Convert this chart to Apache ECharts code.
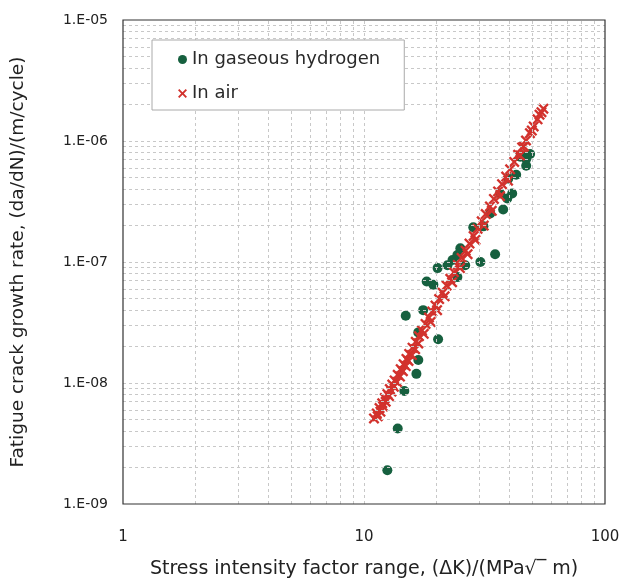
<!DOCTYPE html>
<html>
<head>
<meta charset="utf-8">
<script src="https://cdn.jsdelivr.net/npm/echarts@6/dist/echarts.min.js"></script>
<style>html,body{margin:0;padding:0;background:#fff}#c{width:633px;height:584px}</style>
</head>
<body>
<div id="c"></div>
<script>
// ---- Data ----
// In gaseous hydrogen: ΔK (MPa√m) and da/dN (m/cycle)
var hydrogenK  = [12.5, 13.8, 14.7, 16.5, 16.8, 16.8, 20.3, 14.9, 17.6, 18.2, 19.4, 20.2, 22.2, 23.3, 24.4, 25.1, 26.3, 24.4, 30.4, 35.0, 28.4, 31.3, 33.4, 37.8, 36.7, 39.3, 41.2, 39.7, 42.8, 47.1, 47.1, 48.9, 44.5, 46.0];
var hydrogenDa = [1.9e-9, 4.2e-9, 8.6e-9, 1.19e-8, 1.55e-8, 2.62e-8, 2.3e-8, 3.6e-8, 4.0e-8, 6.9e-8, 6.5e-8, 8.9e-8, 9.4e-8, 1.04e-7, 1.14e-7, 1.30e-7, 9.4e-8, 7.5e-8, 1.0e-7, 1.16e-7, 1.94e-7, 1.97e-7, 2.52e-7, 2.72e-7, 3.68e-7, 3.35e-7, 3.68e-7, 4.89e-7, 5.26e-7, 6.24e-7, 7.1e-7, 7.8e-7, 7.4e-7, 7.6e-7];

// In air: ΔK and da/dN
var airK  = [11.0, 11.3, 11.6, 11.9, 12.2, 12.5, 12.8, 13.1, 13.4, 13.8, 14.2, 14.6, 15.0, 15.4, 15.9, 16.4, 16.9, 17.4, 18.0, 18.6, 19.2, 19.8, 20.5, 21.2, 22.0, 22.8, 23.6, 24.5, 25.4, 26.4, 27.4, 28.5, 29.6, 30.8, 32.0, 33.3, 34.6, 36.0, 37.4, 38.9, 40.4, 42.0, 43.6, 45.3, 47.0, 48.8, 50.6, 52.5, 54.5,
             11.4, 11.7, 12.0, 12.3, 12.7, 13.0, 13.3, 13.7, 14.1, 14.5, 14.9, 15.3, 15.8, 16.3, 16.8, 17.7, 18.9, 20.1, 21.6, 23.2, 25.0, 26.9, 29.0, 31.4, 33.9, 36.7, 39.6, 44.4, 46.1, 49.7, 53.5, 55.5];
var airDa = [5.1e-9, 5.6e-9, 6.2e-9, 6.8e-9, 7.5e-9, 8.1e-9, 8.9e-9, 9.7e-9, 1.05e-8, 1.17e-8, 1.30e-8, 1.43e-8, 1.58e-8, 1.74e-8, 1.96e-8, 2.19e-8, 2.44e-8, 2.72e-8, 3.08e-8, 3.47e-8, 3.89e-8, 4.36e-8, 4.94e-8, 5.58e-8, 6.38e-8, 7.27e-8, 8.24e-8, 9.45e-8, 1.08e-7, 1.24e-7, 1.42e-7, 1.64e-7, 1.88e-7, 2.17e-7, 2.49e-7, 2.88e-7, 3.32e-7, 3.83e-7, 4.40e-7, 5.08e-7, 5.83e-7, 6.71e-7, 7.70e-7, 8.85e-7, 1.01e-6, 1.16e-6, 1.32e-6, 1.51e-6, 1.73e-6,
             5.3e-9, 5.8e-9, 6.4e-9, 7.0e-9, 7.8e-9, 8.5e-9, 9.3e-9, 1.02e-8, 1.13e-8, 1.25e-8, 1.38e-8, 1.52e-8, 1.70e-8, 1.90e-8, 2.12e-8, 2.55e-8, 3.2e-8, 4.0e-8, 5.2e-8, 6.8e-8, 8.9e-8, 1.16e-7, 1.52e-7, 2.0e-7, 2.65e-7, 3.5e-7, 4.7e-7, 7.6e-7, 9.0e-7, 1.22e-6, 1.65e-6, 1.85e-6];

// Axis ranges / grid line values
var xMin = 1, xMax = 100;
var yMin = 1e-9, yMax = 1e-5;
var xGridValues = [2,3,4,5,6,7,8,9,10,20,30,40,50,60,70,80,90];
var yGridValues = [2e-9,3e-9,4e-9,5e-9,6e-9,7e-9,8e-9,9e-9,1e-8,
                   2e-8,3e-8,4e-8,5e-8,6e-8,7e-8,8e-8,9e-8,1e-7,
                   2e-7,3e-7,4e-7,5e-7,6e-7,7e-7,8e-7,9e-7,1e-6,
                   2e-6,3e-6,4e-6,5e-6,6e-6,7e-6,8e-6,9e-6];

var seriesNames = ['In gaseous hydrogen', 'In air'];
var xTitle = 'Stress intensity factor range, (\u0394K)/(MPa\u221A\u203E m)';
var yTitle = 'Fatigue crack growth rate, (da/dN)/(m/cycle)';

// ---- Build ----
function zip(a, b){ var r=[]; for (var i=0;i<a.length;i++) r.push([a[i], b[i]]); return r; }
var crossPath = 'path://M1.5,0L5,3.5L8.5,0L10,1.5L6.5,5L10,8.5L8.5,10L5,6.5L1.5,10L0,8.5L3.5,5L0,1.5Z';
var FONT = '"DejaVu Sans", sans-serif';

var gridLines = [];
xGridValues.forEach(function(v){ gridLines.push([{coord: [v, yMin]}, {coord: [v, yMax]}]); });
yGridValues.forEach(function(v){ gridLines.push([{coord: [xMin, v]}, {coord: [xMax, v]}]); });

var chart = echarts.init(document.getElementById('c'), null, {renderer: 'canvas'});
chart.setOption({
  animation: false,
  backgroundColor: '#ffffff',
  grid: {left: 123, right: 28, top: 20, bottom: 73, show: true, borderColor: '#333', borderWidth: 1.2, backgroundColor: 'transparent', z: 10},
  legend: {
    data: [
      {name: seriesNames[0], icon: 'circle'},
      {name: seriesNames[1], icon: crossPath}
    ],
    orient: 'vertical', left: 152, top: 40,
    padding: [9, 24, 6, 26], itemGap: 13,
    itemWidth: 9, itemHeight: 9,
    backgroundColor: '#fff', borderColor: '#aaa', borderWidth: 1,
    textStyle: {fontFamily: FONT, fontSize: 18, color: '#2a2a2a', lineHeight: 21},
    z: 20
  },
  xAxis: {
    type: 'log', logBase: 10, min: xMin, max: xMax,
    axisLine: {show: false}, axisTick: {show: false},
    splitLine: {show: false},
    axisLabel: {fontFamily: FONT, fontSize: 15, color: '#222', margin: 26,
      formatter: function(v){ return String(Math.round(v)); }},
    name: xTitle, nameLocation: 'middle', nameGap: 56,
    nameTextStyle: {fontFamily: FONT, fontSize: 19, color: '#222'}
  },
  yAxis: {
    type: 'log', logBase: 10, min: yMin, max: yMax,
    axisLine: {show: false}, axisTick: {show: false},
    splitLine: {show: false},
    axisLabel: {fontFamily: FONT, fontSize: 14, color: '#222', margin: 15,
      formatter: function(v){
        var e = Math.round(Math.log10(v));
        var s = Math.abs(e) < 10 ? '0' + Math.abs(e) : String(Math.abs(e));
        return '1.E' + (e < 0 ? '-' : '+') + s;
      }},
    name: yTitle, nameLocation: 'middle', nameGap: 95,
    nameTextStyle: {fontFamily: FONT, fontSize: 18.5, color: '#222'}
  },
  series: [
    {
      name: '__grid', type: 'scatter', data: [], silent: true, z: 1,
      markLine: {
        silent: true, symbol: ['none', 'none'], label: {show: false},
        lineStyle: {color: '#c8c8c8', type: [3, 3], width: 1},
        emphasis: {disabled: true},
        animation: false,
        data: gridLines
      }
    },
    {
      name: seriesNames[0], type: 'scatter', data: zip(hydrogenK, hydrogenDa),
      symbol: 'circle', symbolSize: 10, z: 3,
      itemStyle: {color: '#16603f', opacity: 1}
    },
    {
      name: seriesNames[1], type: 'scatter', data: zip(airK, airDa),
      symbol: crossPath, symbolSize: 11, z: 4,
      itemStyle: {color: '#d2322d', opacity: 1}
    }
  ]
});
</script>
</body>
</html>
